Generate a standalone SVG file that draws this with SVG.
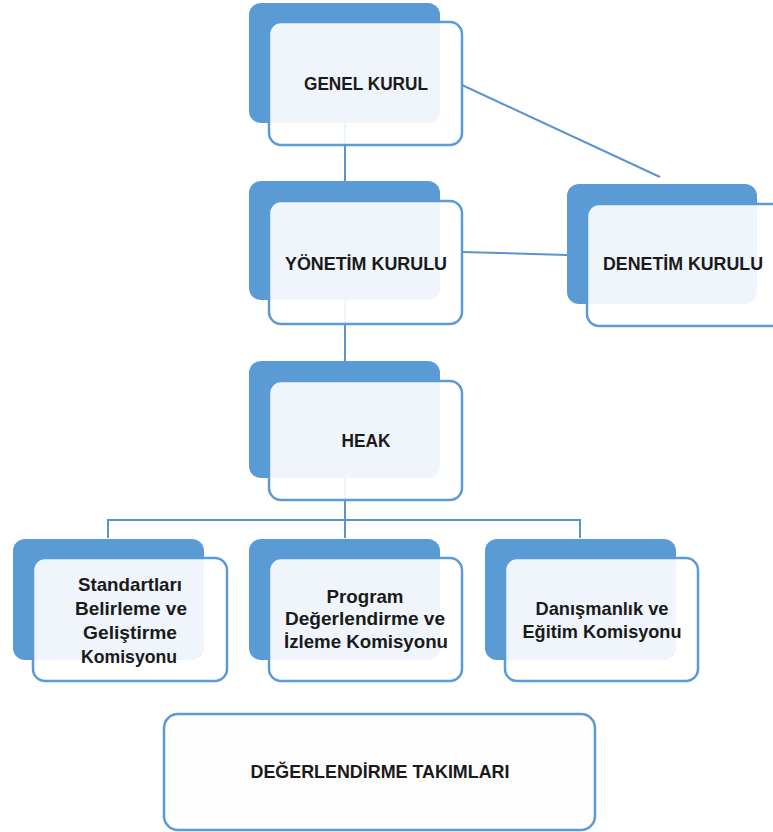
<svg xmlns="http://www.w3.org/2000/svg" width="773" height="832" viewBox="0 0 773 832">
<style>
.back{fill:#5B9BD5;}
.front{fill:#ffffff;fill-opacity:0.9;stroke:#5B9BD5;stroke-width:2.5;}
.plain{fill:#FDFDFD;stroke:#5B9BD5;stroke-width:2.5;}
.conn{stroke:#5B93CC;stroke-width:2;fill:none;}
.t{font-family:"Liberation Sans",Arial,sans-serif;font-weight:bold;font-size:19px;fill:#1a1a1a;text-anchor:middle;}
</style>
<rect width="773" height="832" fill="#ffffff"/>
<g id="connectors">
<line class="conn" x1="345" y1="122" x2="345" y2="182"/>
<line class="conn" x1="345" y1="299" x2="345" y2="362"/>
<polyline class="conn" points="345,477 345,520"/>
<polyline class="conn" points="108,538 108,520 580,520 580,538"/>
<line class="conn" x1="345" y1="520" x2="345" y2="538"/>
<line class="conn" x1="462" y1="85" x2="660" y2="177"/>
<line class="conn" x1="462" y1="252" x2="567" y2="255"/>
</g>
<g id="genel-kurul">
<rect class="back" x="249" y="3" width="191" height="120" rx="12"/>
<rect class="front" x="269" y="22" width="193" height="123" rx="12"/>
<text class="t" x="366" y="90" textLength="124" lengthAdjust="spacingAndGlyphs">GENEL KURUL</text>
</g>
<g id="yonetim-kurulu">
<rect class="back" x="249" y="181" width="191" height="119" rx="12"/>
<rect class="front" x="269" y="201" width="193" height="123" rx="12"/>
<text class="t" x="366" y="270" textLength="162" lengthAdjust="spacingAndGlyphs">YÖNETİM KURULU</text>
</g>
<g id="denetim-kurulu">
<rect class="back" x="567" y="184" width="190" height="120" rx="12"/>
<rect class="front" x="587" y="204" width="200" height="122" rx="12"/>
<text class="t" x="683" y="270" textLength="160" lengthAdjust="spacingAndGlyphs">DENETİM KURULU</text>
</g>
<g id="heak">
<rect class="back" x="249" y="361" width="191" height="117" rx="12"/>
<rect class="front" x="269" y="381" width="193" height="119" rx="12"/>
<text class="t" x="366" y="447" textLength="49" lengthAdjust="spacingAndGlyphs">HEAK</text>
</g>
<g id="standartlari">
<rect class="back" x="13" y="539" width="191" height="121" rx="12"/>
<rect class="front" x="33" y="558" width="194" height="123" rx="12"/>
<text class="t" x="130" y="591" textLength="104" lengthAdjust="spacingAndGlyphs">Standartları</text>
<text class="t" x="131" y="615" textLength="112" lengthAdjust="spacingAndGlyphs">Belirleme ve</text>
<text class="t" x="130" y="639" textLength="94" lengthAdjust="spacingAndGlyphs">Geliştirme</text>
<text class="t" x="129" y="663" textLength="96" lengthAdjust="spacingAndGlyphs">Komisyonu</text>
</g>
<g id="program">
<rect class="back" x="249" y="539" width="191" height="121" rx="12"/>
<rect class="front" x="269" y="558" width="193" height="123" rx="12"/>
<text class="t" x="365" y="603" textLength="77" lengthAdjust="spacingAndGlyphs">Program</text>
<text class="t" x="365" y="625" textLength="160" lengthAdjust="spacingAndGlyphs">Değerlendirme ve</text>
<text class="t" x="366" y="648" textLength="164" lengthAdjust="spacingAndGlyphs">İzleme Komisyonu</text>
</g>
<g id="danismanlik">
<rect class="back" x="485" y="539" width="191" height="121" rx="12"/>
<rect class="front" x="505" y="558" width="193" height="123" rx="12"/>
<text class="t" x="602" y="615" textLength="133" lengthAdjust="spacingAndGlyphs">Danışmanlık ve</text>
<text class="t" x="602" y="638" textLength="159" lengthAdjust="spacingAndGlyphs">Eğitim Komisyonu</text>
</g>
<g id="degerlendirme-takimlari">
<rect class="plain" x="164" y="714" width="431" height="116" rx="14"/>
<text class="t" x="380" y="778" textLength="259" lengthAdjust="spacingAndGlyphs">DEĞERLENDİRME TAKIMLARI</text>
</g>
</svg>
